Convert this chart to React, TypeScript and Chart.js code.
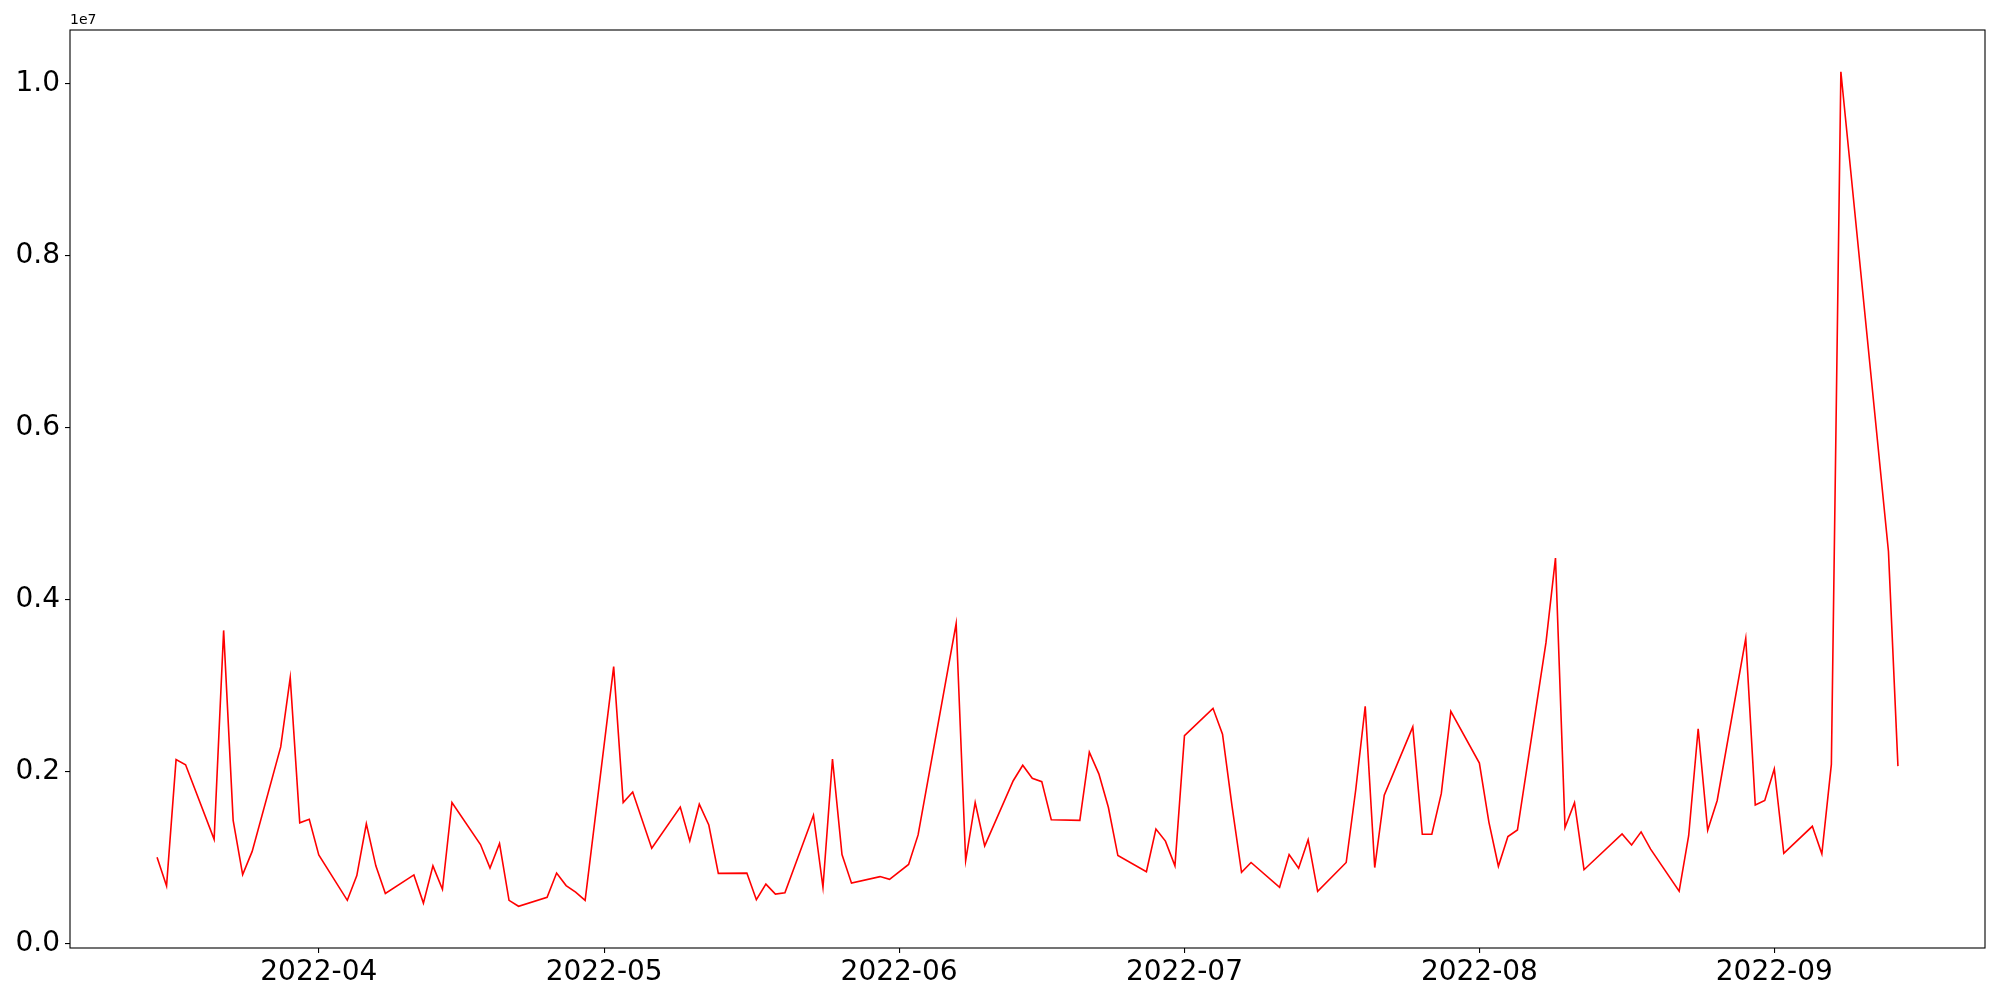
import React, { useEffect, useRef } from "react";
import { Chart, registerables } from "chart.js";

Chart.register(...registerables);

// Trading dates (weekends and holidays absent)
const dates: string[] = [
  "2022-03-15", "2022-03-16", "2022-03-17", "2022-03-18",
  "2022-03-21", "2022-03-22", "2022-03-23", "2022-03-24", "2022-03-25",
  "2022-03-28", "2022-03-29", "2022-03-30", "2022-03-31", "2022-04-01",
  "2022-04-04", "2022-04-05", "2022-04-06", "2022-04-07", "2022-04-08",
  "2022-04-11", "2022-04-12", "2022-04-13", "2022-04-14", "2022-04-15",
  "2022-04-18", "2022-04-19", "2022-04-20", "2022-04-21", "2022-04-22",
  "2022-04-25", "2022-04-26", "2022-04-27", "2022-04-28", "2022-04-29",
  "2022-05-02", "2022-05-03", "2022-05-04", "2022-05-06",
  "2022-05-09", "2022-05-10", "2022-05-11", "2022-05-12", "2022-05-13",
  "2022-05-16", "2022-05-17", "2022-05-18", "2022-05-19", "2022-05-20",
  "2022-05-23", "2022-05-24", "2022-05-25", "2022-05-26", "2022-05-27",
  "2022-05-30", "2022-05-31", "2022-06-02", "2022-06-03",
  "2022-06-07", "2022-06-08", "2022-06-09", "2022-06-10",
  "2022-06-13", "2022-06-14", "2022-06-15", "2022-06-16", "2022-06-17",
  "2022-06-20", "2022-06-21", "2022-06-22", "2022-06-23", "2022-06-24",
  "2022-06-27", "2022-06-28", "2022-06-29", "2022-06-30", "2022-07-01",
  "2022-07-04", "2022-07-05", "2022-07-06", "2022-07-07", "2022-07-08",
  "2022-07-11", "2022-07-12", "2022-07-13", "2022-07-14", "2022-07-15",
  "2022-07-18", "2022-07-19", "2022-07-20", "2022-07-21", "2022-07-22",
  "2022-07-25", "2022-07-26", "2022-07-27", "2022-07-28", "2022-07-29",
  "2022-08-01", "2022-08-02", "2022-08-03", "2022-08-04", "2022-08-05",
  "2022-08-08", "2022-08-09", "2022-08-10", "2022-08-11", "2022-08-12",
  "2022-08-16", "2022-08-17", "2022-08-18", "2022-08-19",
  "2022-08-22", "2022-08-23", "2022-08-24", "2022-08-25", "2022-08-26",
  "2022-08-29", "2022-08-30", "2022-08-31", "2022-09-01", "2022-09-02",
  "2022-09-05", "2022-09-06", "2022-09-07", "2022-09-08",
  "2022-09-13", "2022-09-14",
];

// Values (units of 1e6)
const valuesM: number[] = [
  1.005, 0.672, 2.14, 2.08,
  1.213, 3.643, 1.434, 0.804, 1.073,
  2.288, 3.094, 1.406, 1.446, 1.033,
  0.504, 0.792, 1.394, 0.905, 0.584,
  0.8, 0.472, 0.905, 0.632, 1.642,
  1.153, 0.88, 1.165, 0.504, 0.435,
  0.54, 0.821, 0.676, 0.6, 0.504,
  3.222, 1.64, 1.763, 1.11,
  1.588, 1.195, 1.622, 1.38, 0.818,
  0.821, 0.512, 0.692, 0.576, 0.592,
  1.494, 0.656, 2.148, 1.037, 0.704,
  0.78, 0.748, 0.921, 1.265,
  3.723, 0.965, 1.642, 1.137,
  1.895, 2.075, 1.923, 1.884, 1.442,
  1.434, 2.228, 1.975, 1.586, 1.025,
  0.837, 1.334, 1.193, 0.905, 2.42,
  2.737, 2.437, 1.6, 0.83, 0.944,
  0.656, 1.037, 0.877, 1.209, 0.608,
  0.944, 1.787, 2.761, 0.885, 1.727,
  2.521, 1.273, 1.273, 1.747, 2.701,
  2.1, 1.414, 0.9, 1.245, 1.322,
  3.5, 4.485, 1.35, 1.64, 0.86,
  1.276, 1.148, 1.3, 1.1,
  0.61, 1.255, 2.499, 1.319, 1.665,
  3.551, 1.612, 1.665, 2.031, 1.052,
  1.365, 1.045, 2.085, 10.14,
  4.564, 2.065,
];

const xTickDates: string[] = [
  "2022-04-01", "2022-05-01", "2022-06-01", "2022-07-01", "2022-08-01", "2022-09-01",
];
const yTickValues: number[] = [0, 2e6, 4e6, 6e6, 8e6, 1e7];

const DAY = 86400000;
const dayNum = (s: string) => {
  const [y, m, d] = s.split("-").map(Number);
  return Date.UTC(y, m - 1, d) / DAY;
};
const fmtMonth = (dn: number) => {
  const dt = new Date(Math.round(dn) * DAY);
  const mm = String(dt.getUTCMonth() + 1).padStart(2, "0");
  return `${dt.getUTCFullYear()}-${mm}`;
};

export default function App() {
  const ref = useRef<HTMLCanvasElement>(null);
  useEffect(() => {
    if (!ref.current) return;
    const pts = dates.map((d, i) => ({ x: dayNum(d), y: valuesM[i] * 1e6 }));
    const xs = pts.map((p) => p.x);
    const ys = pts.map((p) => p.y);
    const xMin0 = Math.min(...xs), xMax0 = Math.max(...xs);
    const yMin0 = Math.min(...ys), yMax0 = Math.max(...ys);
    const xm = (xMax0 - xMin0) * 0.05;
    const ym = (yMax0 - yMin0) * 0.05;

    const frame = {
      id: "frame",
      afterDraw(chart: any) {
        const { ctx, chartArea } = chart;
        ctx.save();
        ctx.strokeStyle = "#000";
        ctx.lineWidth = 1.1;
        ctx.strokeRect(chartArea.left, chartArea.top, chartArea.right - chartArea.left, chartArea.bottom - chartArea.top);
        ctx.fillStyle = "#000";
        ctx.font = "14px 'DejaVu Sans'";
        ctx.textAlign = "left";
        ctx.textBaseline = "bottom";
        ctx.fillText("1e7", chartArea.left, chartArea.top - 3);
        ctx.restore();
      },
    };

    const chart = new Chart(ref.current, {
      type: "line",
      data: {
        datasets: [
          {
            data: pts,
            borderColor: "#ff0000",
            borderWidth: 1.6,
            pointRadius: 0,
            tension: 0,
            fill: false,
          },
        ],
      },
      options: {
        animation: false,
        responsive: false,
        devicePixelRatio: 1,
        parsing: false as any,
        layout: { padding: { top: 30, right: 15, left: 0, bottom: 0 } },
        plugins: { legend: { display: false }, tooltip: { enabled: false } },
        scales: {
          x: {
            type: "linear",
            min: xMin0 - xm,
            max: xMax0 + xm,
            afterBuildTicks: (scale: any) => {
              scale.ticks = xTickDates.map((d) => ({ value: dayNum(d) }));
            },
            afterFit: (scale: any) => {
              scale.height = 52;
            },
            ticks: {
              callback: (v: any) => fmtMonth(Number(v)),
              font: { family: "'DejaVu Sans'", size: 28 },
              color: "#000",
              padding: 3,
              maxRotation: 0,
              autoSkip: false,
            },
            grid: { display: true, drawOnChartArea: false, drawTicks: true, tickLength: 5, color: "#000", lineWidth: 1.1 },
            border: { display: false },
          },
          y: {
            type: "linear",
            min: yMin0 - ym,
            max: yMax0 + ym,
            afterBuildTicks: (scale: any) => {
              scale.ticks = yTickValues.map((v) => ({ value: v }));
            },
            afterFit: (scale: any) => {
              scale.width = 70;
            },
            ticks: {
              callback: (v: any) => (Number(v) / 1e7).toFixed(1),
              font: { family: "'DejaVu Sans'", size: 28 },
              color: "#000",
              padding: 5,
              autoSkip: false,
            },
            grid: { display: true, drawOnChartArea: false, drawTicks: true, tickLength: 5, color: "#000", lineWidth: 1.1 },
            border: { display: false },
          },
        },
      },
      plugins: [frame],
    });
    return () => chart.destroy();
  }, []);
  return (
    <div style={{ position: "fixed", left: 0, top: 0, width: 2000, height: 1000, background: "#fff" }}>
      <canvas ref={ref} width={2000} height={1000} style={{ width: 2000, height: 1000 }} />
    </div>
  );
}
